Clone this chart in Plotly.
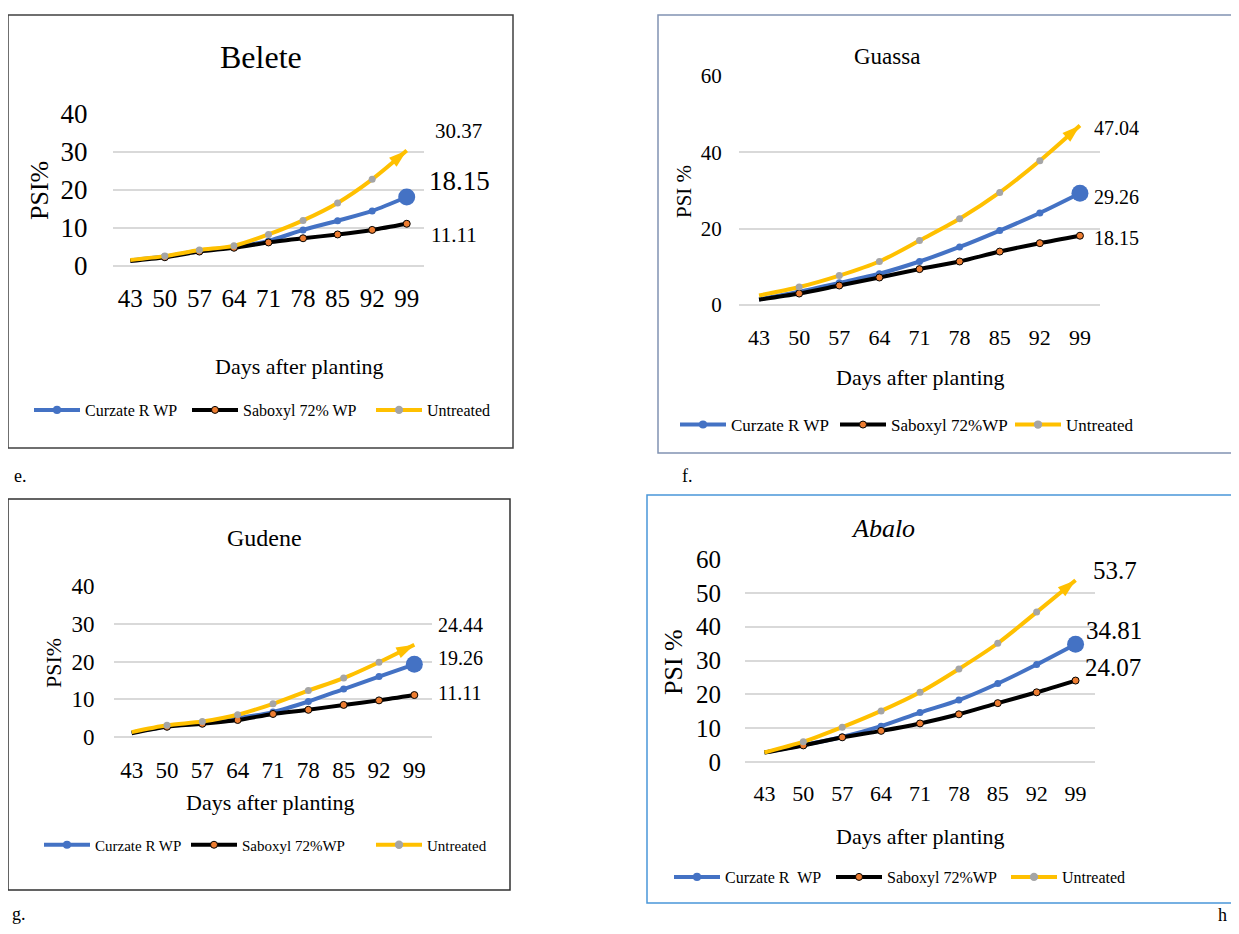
import plotly.graph_objects as go

W, H = 1239, 934
PAGE_MARGIN = 8
FW, FH = W - 2 * PAGE_MARGIN, H - 2 * PAGE_MARGIN

days = ["43", "50", "57", "64", "71", "78", "85", "92", "99"]

belete_curzate = [1.5, 2.5, 4.0, 5.0, 6.6, 9.5, 11.9, 14.5, 18.15]
belete_saboxyl = [1.3, 2.3, 3.8, 4.8, 6.2, 7.3, 8.3, 9.5, 11.11]
belete_untreated = [1.6, 2.6, 4.2, 5.3, 8.3, 12.0, 16.6, 22.8, 30.37]

guassa_curzate = [1.5, 3.5, 5.8, 8.2, 11.4, 15.2, 19.5, 24.1, 29.26]
guassa_saboxyl = [1.4, 3.0, 5.1, 7.2, 9.4, 11.4, 14.0, 16.2, 18.15]
guassa_untreated = [2.5, 4.7, 7.7, 11.4, 16.9, 22.6, 29.5, 37.8, 47.04]

gudene_curzate = [1.2, 2.8, 3.7, 5.0, 6.6, 9.4, 12.7, 16.0, 19.26]
gudene_saboxyl = [1.0, 2.7, 3.5, 4.5, 6.1, 7.2, 8.5, 9.7, 11.11]
gudene_untreated = [1.3, 3.1, 4.1, 5.9, 8.8, 12.3, 15.6, 19.8, 24.44]

abalo_curzate = [2.8, 5.0, 7.4, 10.6, 14.6, 18.3, 23.2, 28.8, 34.81]
abalo_saboxyl = [2.8, 4.9, 7.3, 9.2, 11.4, 14.1, 17.4, 20.6, 24.07]
abalo_untreated = [2.8, 6.0, 10.3, 15.1, 20.6, 27.5, 35.1, 44.3, 53.7]

titles = ["Belete", "Guassa", "Gudene", "<i>Abalo</i>"]
y_titles = ["PSI%", "PSI %", "PSI%", "PSI %"]
x_title = "Days after planting"
legend_names = [
    ["Curzate R WP", "Saboxyl 72% WP", "Untreated"],
    ["Curzate R WP", "Saboxyl 72%WP", "Untreated"],
    ["Curzate R WP", "Saboxyl 72%WP", "Untreated"],
    ["Curzate R  WP", "Saboxyl 72%WP", "Untreated"],
]
y_max = [40, 60, 40, 60]
y_dtick = [10, 20, 10, 10]
panel_letters = ["e.", "f.", "g.", "h"]

data = [
    (belete_curzate, belete_saboxyl, belete_untreated),
    (guassa_curzate, guassa_saboxyl, guassa_untreated),
    (gudene_curzate, gudene_saboxyl, gudene_untreated),
    (abalo_curzate, abalo_saboxyl, abalo_untreated),
]

FONT = "Liberation Serif"
BLUE, BLACK, GOLD = "#4472C4", "#000000", "#FFC000"
ORANGE, GREY = "#ED7D31", "#A5A5A5"


def PX(x):
    return (x - PAGE_MARGIN) / FW


def PY(y):
    return 1 - (y - PAGE_MARGIN) / FH


# layout geometry in pixels of the target picture (positions only)
panels = [
    dict(box=(8, 15, 513, 448), bc="#404040", plot=(113, 424, 266, 114),
         title=(261, 57, 32), ytitle=(40, 191, 26), xtitle=(299, 366, 22),
         ytick=27, ystand=19, xtick=25, xstand=10,
         legend_y=410, legend_x=(35, 193, 377), legend_font=16,
         lab_shift=[(53, 16, 27), (47, -11, 21), (52, 20, 21)],
         letter=(20, 476)),
    dict(box=(658, 15, 1250, 453), bc="#8193B2", plot=(739, 1100, 305, 76),
         title=(887, 56, 23), ytitle=(684, 192, 21), xtitle=(920, 377, 22),
         ytick=21, ystand=12, xtick=22, xstand=13,
         legend_y=425, legend_x=(681, 841, 1016), legend_font=17,
         lab_shift=[(37, -4, 20), (37, -2, 20), (37, -3, 20)],
         letter=(687, 476)),
    dict(box=(8, 499, 510, 890), bc="#303030", plot=(114, 432, 737, 586),
         title=(264, 538, 24), ytitle=(53, 663, 22), xtitle=(270, 802, 22),
         ytick=23, ystand=14, xtick=23, xstand=12,
         legend_y=845, legend_x=(45, 192, 377), legend_font=15,
         lab_shift=[(46, 6, 20), (46, 2, 20), (46, 20, 20)],
         letter=(19, 914)),
    dict(box=(647, 495, 1250, 903), bc="#4A97D9", plot=(745, 1095, 762, 559),
         title=(883, 528, 26), ytitle=(673, 662, 26), xtitle=(920, 836, 22),
         ytick=25, ystand=18, xtick=22, xstand=12,
         legend_y=877, legend_x=(675, 837, 1012), legend_font=16,
         lab_shift=[(38, 14, 25), (37, 13, 25), (39, 10, 25)],
         letter=(1222, 915)),
]

fig = go.Figure()
annotations = []
shapes = []
legends = {}
leg_idx = 1

for i, p in enumerate(panels):
    ax = "" if i == 0 else str(i + 1)
    xref, yref = "x" + ax, "y" + ax
    cur, sab, unt = data[i]
    n = len(days)

    series = [
        dict(y=cur, color=BLUE, mcolor=[BLUE] * n,
             msize=[7] * (n - 1) + [17], msym=["circle"] * n,
             mline=BLUE, mlw=0),
        dict(y=sab, color=BLACK, mcolor=[ORANGE] * n,
             msize=[7] * n, msym=["circle"] * n, mline=BLACK, mlw=1),
        dict(y=unt, color=GOLD, mcolor=[GREY] * (n - 1) + [GOLD],
             msize=[7] * (n - 1) + [19], msym=["circle"] * (n - 1) + ["arrow"],
             mline=GREY, mlw=0),
    ]
    for k in range(3):
        s = series[k]
        leg_idx += 1
        lname = f"legend{leg_idx}"
        fig.add_trace(go.Scatter(
            x=days, y=s["y"], name=legend_names[i][k], mode="lines+markers",
            line=dict(color=s["color"], width=4, shape="spline", smoothing=0.8),
            marker=dict(color=s["mcolor"], size=s["msize"], symbol=s["msym"],
                        angleref="previous", opacity=1,
                        line=dict(color=s["mline"], width=s["mlw"])),
            xaxis=xref, yaxis=yref, legend=lname, cliponaxis=False,
        ))
        legends[lname] = dict(
            x=PX(p["legend_x"][k] - 6), y=PY(p["legend_y"]), xanchor="left",
            yanchor="middle", orientation="h", bgcolor="rgba(0,0,0,0)",
            font=dict(family=FONT, size=p["legend_font"], color="#000"),
            itemwidth=46,
        )
        # end-of-series value label (placed at the last category index)
        dx, dy, fs = p["lab_shift"][k]
        annotations.append(dict(
            x=n - 1, y=s["y"][-1], xref=xref, yref=yref,
            text=f"{s['y'][-1]:g}", showarrow=False, xshift=dx, yshift=dy,
            font=dict(family=FONT, size=fs, color="#000"),
            xanchor="center", yanchor="middle",
        ))

    x0, x1, y0, y1 = p["plot"]
    fig.update_layout(**{
        "xaxis" + ax: dict(
            domain=[PX(x0), PX(x1)], anchor=yref, type="category",
            showgrid=False, zeroline=False, showline=False,
            ticks="outside", ticklen=p["xstand"], tickcolor="rgba(0,0,0,0)",
            tickfont=dict(family=FONT, size=p["xtick"], color="#000"),
            range=[-0.5, n - 0.5], fixedrange=True, automargin=False,
        ),
        "yaxis" + ax: dict(
            domain=[PY(y0), PY(y1)], anchor=xref, range=[0, y_max[i]],
            dtick=y_dtick[i],
            showgrid=True, gridcolor="#D9D9D9", gridwidth=1.5,
            zeroline=True, zerolinecolor="#D9D9D9", zerolinewidth=1.5,
            showline=False, ticks="outside", ticklen=p["ystand"],
            tickcolor="rgba(0,0,0,0)",
            tickfont=dict(family=FONT, size=p["ytick"], color="#000"),
            fixedrange=True, automargin=False,
        ),
    })

    bx0, by0, bx1, by1 = p["box"]
    shapes.append(dict(type="rect", xref="paper", yref="paper",
                       x0=PX(bx0), x1=PX(bx1), y0=PY(by0), y1=PY(by1),
                       line=dict(color=p["bc"], width=1.5), layer="below"))

    tx, ty, tf = p["title"]
    annotations.append(dict(x=PX(tx), y=PY(ty), xref="paper", yref="paper",
                            text=titles[i], showarrow=False,
                            font=dict(family=FONT, size=tf, color="#000"),
                            xanchor="center", yanchor="middle"))
    yx, yy, yf = p["ytitle"]
    annotations.append(dict(x=PX(yx), y=PY(yy), xref="paper", yref="paper",
                            text=y_titles[i], showarrow=False, textangle=-90,
                            font=dict(family=FONT, size=yf, color="#000"),
                            xanchor="center", yanchor="middle"))
    xx, xy, xf = p["xtitle"]
    annotations.append(dict(x=PX(xx), y=PY(xy), xref="paper", yref="paper",
                            text=x_title, showarrow=False,
                            font=dict(family=FONT, size=xf, color="#000"),
                            xanchor="center", yanchor="middle"))
    lx, ly = p["letter"]
    annotations.append(dict(x=PX(lx), y=PY(ly), xref="paper", yref="paper",
                            text=panel_letters[i], showarrow=False,
                            font=dict(family=FONT, size=18, color="#000"),
                            xanchor="center", yanchor="middle"))

fig.update_layout(
    width=FW, height=FH,
    margin=dict(l=0, r=0, t=0, b=0, autoexpand=False),
    paper_bgcolor="white", plot_bgcolor="white",
    annotations=annotations, shapes=shapes, showlegend=True,
    **legends,
)

fig.write_html("out.html")
